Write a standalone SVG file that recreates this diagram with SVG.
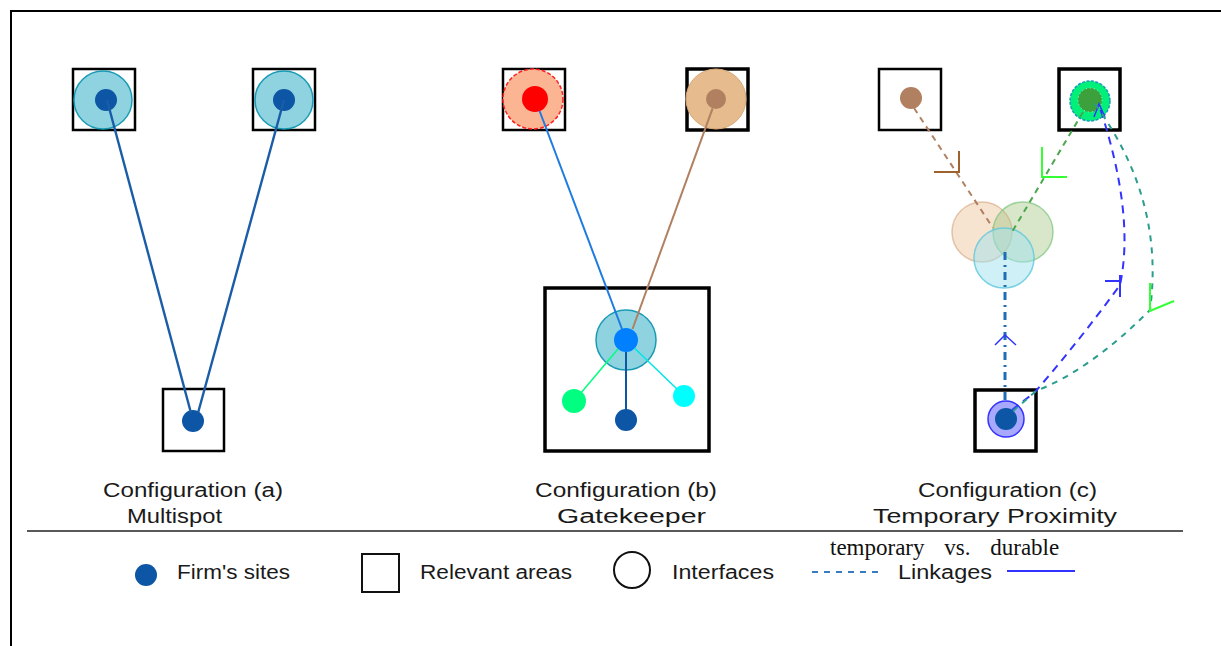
<svg xmlns="http://www.w3.org/2000/svg" width="1221" height="646" viewBox="0 0 1221 646">
<style>
.area{fill:none;stroke:#000;stroke-width:2.5}
.area3{fill:none;stroke:#000;stroke-width:3.5}
.lbl{font-family:"Liberation Sans",Arial,sans-serif;font-size:20px;fill:#1a1a1a}
.serif{font-family:"Liberation Serif","Times New Roman",serif;font-size:23px;fill:#111}
.site{fill:#0d56a6}
.iface{fill:#8fd3e0;stroke:#1a9bb5;stroke-width:1.5}
</style>
<rect width="1221" height="646" fill="#fff"/>
<path d="M11,646 V11 H1221" fill="none" stroke="#000" stroke-width="2"/>

<g id="config-a">
  <rect class="area" x="73" y="69" width="62" height="61"/>
  <circle class="iface" cx="103" cy="100" r="29"/>
  <circle class="site" cx="106" cy="100" r="11"/>
  <rect class="area" x="253" y="69" width="62" height="61"/>
  <circle class="iface" cx="284" cy="100" r="29"/>
  <circle class="site" cx="284" cy="100" r="11"/>
  <rect class="area" x="163" y="389" width="61" height="62"/>
  <circle class="site" cx="193" cy="421" r="11"/>
  <text class="lbl" x="103" y="497" textLength="180" lengthAdjust="spacingAndGlyphs">Configuration (a)</text>
  <text class="lbl" x="127" y="523" textLength="95" lengthAdjust="spacingAndGlyphs">Multispot</text>
</g>

<g id="config-b">
  <rect class="area" x="503" y="69" width="62" height="61"/>
  <circle cx="533" cy="99" r="30" fill="#fbb592" stroke="#ff2020" stroke-width="1.5" stroke-dasharray="4,2"/>
  <circle cx="535" cy="99" r="13" fill="#ff0000"/>
  <rect class="area3" x="687" y="69" width="61" height="61"/>
  <circle cx="716" cy="99" r="30" fill="#e6bb8e" stroke="#d8a878" stroke-width="1"/>
  <circle cx="716" cy="99" r="10" fill="#b08060"/>
  <rect class="area3" x="545" y="288" width="164" height="163"/>
  <circle class="iface" cx="626" cy="340" r="30" stroke-width="2"/>
  <circle cx="626" cy="340" r="12" fill="#0080ff"/>
  <circle cx="574" cy="401" r="12" fill="#00ff80"/>
  <circle cx="684" cy="396" r="11" fill="#00ffff"/>
  <circle cx="626" cy="420" r="11" fill="#0d56a6"/>
  <text class="lbl" x="535" y="497" textLength="182" lengthAdjust="spacingAndGlyphs">Configuration (b)</text>
  <text class="lbl" x="557" y="523" textLength="149" lengthAdjust="spacingAndGlyphs">Gatekeeper</text>
</g>

<g id="config-c">
  <rect class="area" x="879" y="69" width="62" height="61"/>
  <circle cx="911" cy="98" r="11" fill="#b08060"/>
  <rect class="area3" x="1059" y="69" width="61" height="61"/>
  <circle cx="1090" cy="101" r="20" fill="#00f07a" stroke="#1a9bb5" stroke-width="1.5" stroke-dasharray="3,1.5"/>
  <circle cx="1090" cy="100" r="12" fill="#3ca03c" stroke="#c8f0c8" stroke-width="1" stroke-dasharray="1,3"/>
  <circle cx="982" cy="232" r="30" fill="#e8b889" fill-opacity="0.4" stroke="#d4a47e" stroke-opacity="0.6" stroke-width="1.5"/>
  <circle cx="1023" cy="232" r="30" fill="#9dc37a" fill-opacity="0.4" stroke="#7cc47c" stroke-opacity="0.7" stroke-width="1.5"/>
  <circle cx="1004" cy="258" r="30" fill="#9fe2ee" fill-opacity="0.5" stroke="#5cc7dc" stroke-opacity="0.8" stroke-width="1.5"/>
  <rect class="area3" x="975" y="390" width="61" height="61"/>
  <circle cx="1006" cy="419" r="18" fill="#a8a8ff" stroke="#3333ff" stroke-width="1.5"/>
  <circle cx="1006" cy="419" r="11" fill="#0d56a6"/>
  <text class="lbl" x="918" y="497" textLength="179" lengthAdjust="spacingAndGlyphs">Configuration (c)</text>
  <text class="lbl" x="873" y="523" textLength="244" lengthAdjust="spacingAndGlyphs">Temporary Proximity</text>
</g>

<g id="connectors" fill="none">
  <line x1="107" y1="100" x2="191" y2="413" stroke="#1a5ca8" stroke-width="2.4"/>
  <line x1="284" y1="100" x2="198" y2="413" stroke="#1a5ca8" stroke-width="2.4"/>
  <line x1="539.6" y1="111" x2="622" y2="329" stroke="#1e7be0" stroke-width="2"/>
  <line x1="712.6" y1="108.4" x2="632.5" y2="329" stroke="#b08060" stroke-width="2"/>
  <line x1="618" y1="349" x2="580" y2="394" stroke="#00ff80" stroke-width="1.5"/>
  <line x1="634.6" y1="348.3" x2="677" y2="389" stroke="#00e5e5" stroke-width="1.5"/>
  <line x1="626" y1="352" x2="626" y2="410" stroke="#0d56a6" stroke-width="2"/>
  <line x1="914" y1="108" x2="993" y2="228" stroke="#b08060" stroke-width="2" stroke-dasharray="6,5"/>
  <path d="M934,172 H959 V151" stroke="#a0622d" stroke-width="2"/>
  <line x1="1083" y1="112" x2="1012" y2="232" stroke="#4ca64c" stroke-width="2" stroke-dasharray="6,5"/>
  <path d="M1042,147 V177 H1067" stroke="#33ff33" stroke-width="2"/>
  <line x1="1005" y1="252" x2="1005" y2="401" stroke="#1f6db5" stroke-width="3" stroke-dasharray="8,5,2,5"/>
  <path d="M995,345 L1005,335 L1016,345" stroke="#3333ff" stroke-width="1.5"/>
  <path d="M1012,410 L1035,392 Q1080,340 1120,285 Q1135,215 1100,108" stroke="#3333ff" stroke-width="2" stroke-dasharray="8,6"/>
  <path d="M1105,281 H1120 M1120,275 V297" stroke="#3333ff" stroke-width="2"/>
  <path d="M1094,117 L1099,104 L1105,117" stroke="#3333ff" stroke-width="1.5"/>
  <path d="M1095,104 Q1165,200 1150,310 Q1090,370 1036,391 L1012,412" stroke="#2a9d8f" stroke-width="2" stroke-dasharray="6,6"/>
  <path d="M1150,283 V311 L1174,301" stroke="#33ff33" stroke-width="2"/>
</g>

<g id="legend">
  <line x1="27" y1="531" x2="1183" y2="531" stroke="#222" stroke-width="1.5"/>
  <circle class="site" cx="146" cy="575" r="11"/>
  <text class="lbl" x="177" y="579" textLength="113" lengthAdjust="spacingAndGlyphs">Firm's sites</text>
  <rect x="362" y="554" width="37" height="38" fill="none" stroke="#111" stroke-width="2"/>
  <text class="lbl" x="420" y="579" textLength="152" lengthAdjust="spacingAndGlyphs">Relevant areas</text>
  <circle cx="632" cy="570" r="18" fill="none" stroke="#111" stroke-width="2"/>
  <text class="lbl" x="672" y="579" textLength="102" lengthAdjust="spacingAndGlyphs">Interfaces</text>
  <text class="serif" x="830" y="555" word-spacing="14">temporary vs. durable</text>
  <line x1="812" y1="572" x2="883" y2="572" stroke="#3a7cc0" stroke-width="2" stroke-dasharray="6,6"/>
  <text class="lbl" x="898" y="579" textLength="94" lengthAdjust="spacingAndGlyphs">Linkages</text>
  <line x1="1007" y1="571" x2="1075" y2="571" stroke="#3333ff" stroke-width="2"/>
</g>
</svg>
